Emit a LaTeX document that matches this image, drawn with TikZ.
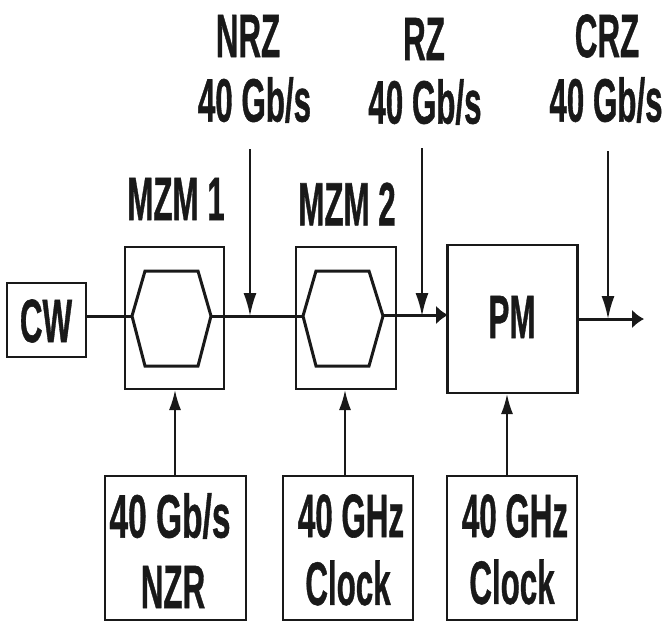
\documentclass[tikz,border=0pt]{standalone}
\usepackage{fontspec}
\usetikzlibrary{arrows.meta}
\setmainfont[BoldFeatures={FakeBold=1}]{Liberation Sans}
\begin{document}
\begin{tikzpicture}[x=1pt,y=-1pt,
 box/.style={draw=black!90,line width=2.5pt,inner sep=0pt,anchor=center},
 lbl/.style={inner sep=0pt,align=center,text=black!90,xscale=0.87,yscale=1.7,font=\bfseries\fontsize{36}{40}\selectfont},
 wire/.style={draw=black!90,line width=3pt},
 thinw/.style={draw=black!90,line width=2pt},
 tip/.style={-{Latex[length=23pt,width=13pt]}},
 tipw/.style={-{Latex[length=12pt,width=19pt]}},
 tipu/.style={-{Latex[length=20pt,width=12pt]}}]
\useasboundingbox (0,0) rectangle (668,622);
\fill[white] (0,0) rectangle (668,622);
\node[box,minimum width=79pt,minimum height=74pt] (cw) at (46.5,320) {};
\node[lbl] at (46,321) {CW};
\node[box,minimum width=99pt,minimum height=142pt] (m1) at (174.5,318) {};
\node[box,minimum width=100pt,minimum height=142pt] (m2) at (346,318) {};
\node[box,minimum width=130pt,minimum height=148pt] (pm) at (512.5,319) {};
\node[lbl] at (512,317) {PM};
\node[box,minimum width=141pt,minimum height=144pt] (s1) at (175.5,548) {};
\node[box,minimum width=130pt,minimum height=144pt] (s2) at (348,548) {};
\node[box,minimum width=130pt,minimum height=144pt] (s3) at (512,548) {};
\node[lbl,xscale=1.07] (s1a) at (170,516) {40 Gb/s};
\node[lbl] (s1b) at (173,587) {NZR};
\node[lbl] (s2a) at (351,516) {40 GHz};
\node[lbl] (s2b) at (348,583) {Clock};
\node[lbl] (s3a) at (515,516) {40 GHz};
\node[lbl] (s3b) at (512,582) {Clock};
\draw[wire] (132,316) -- (145,271) -- (198,271) -- (211,316) -- (198,366) -- (145,366) -- cycle;
\draw[wire] (303,316) -- (316,271) -- (369,271) -- (383,316) -- (369,366) -- (316,366) -- cycle;
\node[lbl] (l1) at (176,199) {MZM 1};
\node[lbl] (l2) at (347,204) {MZM 2};
\node[lbl] (n1) at (248,36) {NRZ};
\node[lbl] (n2) at (254.5,100) {40 Gb/s};
\node[lbl] (r1) at (424,39) {RZ};
\node[lbl] (r2) at (425,102) {40 Gb/s};
\node[lbl] (c1) at (607,36) {CRZ};
\node[lbl] (c2) at (606,100) {40 Gb/s};
\coordinate (e) at (644,319);
\coordinate (cwo) at (86,316);
\coordinate (pmo) at (577,319);\coordinate (pmi) at (448,315);
\coordinate (nt) at (250,149);\coordinate (rt) at (422,148);\coordinate (ct) at (608,151);
\coordinate (nj) at (250,316);\coordinate (rj) at (422,316);\coordinate (cj) at (608,319);
\coordinate (s1t) at (175,476);\coordinate (m1b) at (175,390);
\coordinate (s2t) at (345,476);\coordinate (m2b) at (345,390);
\coordinate (s3t) at (507,476);\coordinate (pmb) at (507,394);
\draw[wire] (cwo) -- (132,316);
\draw[wire] (211,316) -- (303,316);
\draw[wire,tipw] (383,315) -- (pmi);
\draw[wire,tipw] (pmo) -- (e);
\draw[thinw,tip] (nt) -- (nj);
\draw[thinw,tip] (rt) -- (rj);
\draw[thinw,tip] (ct) -- (cj);
\draw[thinw,tipu] (s1t) -- (m1b);
\draw[thinw,tipu] (s2t) -- (m2b);
\draw[thinw,tipu] (s3t) -- (pmb);
\end{tikzpicture}
\end{document}
